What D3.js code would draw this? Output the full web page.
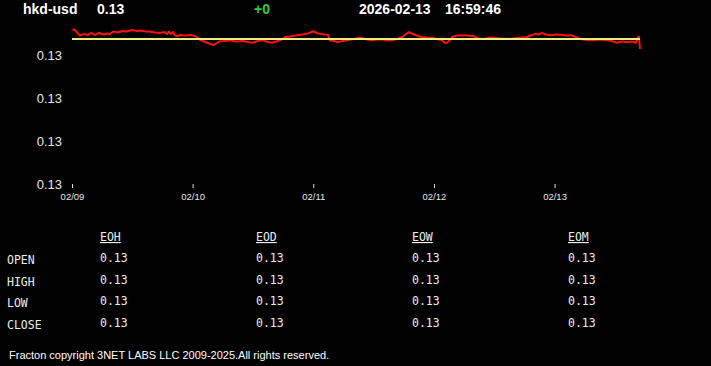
<!DOCTYPE html>
<html>
<head>
<meta charset="utf-8">
<script src="https://cdn.jsdelivr.net/npm/d3@7"></script>
<style>
  html, body { margin: 0; padding: 0; background: #000; }
  svg { display: block; }
</style>
</head>
<body>
<div id="visualization"></div>
<script>
// hours since 2026-02-09 00:00 and hkd-usd quote
var hours = [0.1, 0.6, 1.5, 2.4, 3.2, 3.8, 4.6, 5.4, 6.2, 7.0, 7.6, 8.2, 9.2, 10.0, 10.9, 11.9, 12.9, 13.7, 14.7, 15.5,
  16.5, 17.5, 18.3, 18.9, 19.3, 19.7, 20.1, 20.5, 21.1, 21.5, 22.5, 23.5, 24.5, 25.1, 25.5, 26.3, 27.3, 28.1, 28.9, 29.4,
  30.4, 31.4, 32.6, 34.0, 35.0, 36.0, 37.0, 38.0, 39.0, 39.8, 40.8, 41.6, 42.4, 43.4, 44.8, 45.8, 46.8, 48.0, 48.7, 49.3,
  50.3, 50.9, 51.3, 52.1, 52.9, 53.9, 54.7, 55.5, 56.3, 56.9, 57.7, 58.7, 59.7, 60.7, 61.7, 62.7, 63.7, 64.7, 65.7, 66.5,
  67.0, 67.6, 68.2, 68.8, 69.6, 70.6, 71.6, 72.6, 73.6, 74.2, 74.6, 75.2, 75.6, 76.6, 77.6, 78.6, 79.6, 80.4, 81.0, 82.2,
  83.2, 84.2, 85.2, 86.1, 87.3, 88.5, 89.5, 90.5, 91.3, 92.3, 92.9, 93.5, 94.3, 95.3, 96.3, 97.3, 98.3, 99.3, 100.3, 101.3,
  102.5, 103.9, 105.0, 106.4, 107.4, 108.4, 109.4, 110.4, 111.4, 112.2, 112.6, 112.8, 113.0];
var prices = [0.1278299, 0.1278291, 0.1278227, 0.1278244, 0.1278233, 0.1278256, 0.1278233, 0.1278256, 0.1278238, 0.1278250,
  0.1278244, 0.1278273, 0.1278262, 0.1278279, 0.1278273, 0.1278291, 0.1278279, 0.1278285, 0.1278273, 0.1278273,
  0.1278262, 0.1278256, 0.1278267, 0.1278244, 0.1278273, 0.1278244, 0.1278267, 0.1278227, 0.1278221, 0.1278233,
  0.1278227, 0.1278233, 0.1278221, 0.1278198, 0.1278174, 0.1278157, 0.1278134, 0.1278116, 0.1278140, 0.1278159,
  0.1278163, 0.1278171, 0.1278157, 0.1278163, 0.1278151, 0.1278143, 0.1278163, 0.1278171, 0.1278151, 0.1278143,
  0.1278159, 0.1278174, 0.1278209, 0.1278215, 0.1278229, 0.1278238, 0.1278248, 0.1278276, 0.1278256, 0.1278248,
  0.1278238, 0.1278236, 0.1278171, 0.1278163, 0.1278151, 0.1278163, 0.1278171, 0.1278180, 0.1278190, 0.1278198,
  0.1278198, 0.1278180, 0.1278171, 0.1278180, 0.1278183, 0.1278169, 0.1278171, 0.1278186, 0.1278209, 0.1278244,
  0.1278267, 0.1278250, 0.1278236, 0.1278221, 0.1278209, 0.1278203, 0.1278198, 0.1278186, 0.1278171, 0.1278140,
  0.1278143, 0.1278174, 0.1278209, 0.1278227, 0.1278229, 0.1278227, 0.1278221, 0.1278209, 0.1278190, 0.1278190,
  0.1278203, 0.1278198, 0.1278192, 0.1278190, 0.1278190, 0.1278198, 0.1278203, 0.1278209, 0.1278227, 0.1278248,
  0.1278238, 0.1278256, 0.1278238, 0.1278229, 0.1278238, 0.1278236, 0.1278227, 0.1278229, 0.1278209, 0.1278183,
  0.1278174, 0.1278171, 0.1278180, 0.1278171, 0.1278163, 0.1278143, 0.1278157, 0.1278151, 0.1278157, 0.1278143,
  0.1278209, 0.1278215, 0.1278070];
var refPrice = 0.1278186;

var yTicks = [0.12765, 0.12770, 0.12775, 0.12780];
var xTickDays = ["2026-02-09", "2026-02-10", "2026-02-11", "2026-02-12", "2026-02-13"];

var symbol = "hkd-usd";
var lastQuote = 0.1278;
var change = 0;
var stamp = ["2026-02-13", "16:59:46"];

var rowLabels = ["OPEN", "HIGH", "LOW", "CLOSE"];
var colLabels = ["EOH", "EOD", "EOW", "EOM"];
var eohValues = [0.1278, 0.1278, 0.1278, 0.1278];
var eodValues = [0.1278, 0.1278, 0.1278, 0.1278];
var eowValues = [0.1278, 0.1278, 0.1278, 0.1278];
var eomValues = [0.1278, 0.1278, 0.1278, 0.1278];

var footer = "Fracton copyright 3NET LABS LLC 2009-2025.All rights reserved.";

var width = 711, height = 366;
var svg = d3.select("#visualization").append("svg")
    .attr("width", width)
    .attr("height", height)
    .style("background", "#000");

var parseDay = d3.timeParse("%Y-%m-%d");
var start = parseDay(xTickDays[0]);
var toDate = function(h){ return new Date(start.getTime() + h * 3600 * 1000); };

var data = hours.map(function(h, i){ return { date: toDate(h), value: prices[i] }; });

var x = d3.scaleTime()
    .domain([start, toDate(d3.max(hours))])
    .range([72, 640]);

var y = d3.scaleLinear()
    .domain([yTicks[0], yTicks[yTicks.length - 1]])
    .range([184, 55]);

/* ------- HEADER -------*/
var header = svg.append("g")
    .style("font-family", "Arial, 'Liberation Sans', sans-serif")
    .style("font-weight", "bold")
    .style("font-size", "14px");
header.append("text").attr("x", 23).attr("y", 14).attr("fill", "#fff").text(symbol);
header.append("text").attr("x", 97).attr("y", 14).attr("fill", "#fff").text(d3.format(".2f")(lastQuote));
header.append("text").attr("x", 254).attr("y", 14).attr("fill", "#33cc33").text(d3.format("+")(change));
header.append("text").attr("x", 359).attr("y", 14).attr("fill", "#fff").text(stamp[0]);
header.append("text").attr("x", 445).attr("y", 14).attr("fill", "#fff").text(stamp[1]);

/* ------- AXES -------*/
var yAxis = svg.append("g")
    .attr("transform", "translate(62,0)")
    .call(d3.axisLeft(y).tickValues(yTicks).tickFormat(d3.format(".2f")).tickSize(0).tickPadding(0));
yAxis.select(".domain").remove();
yAxis.selectAll("text")
    .attr("fill", "#e8e8e8")
    .style("font-family", "Arial, 'Liberation Sans', sans-serif")
    .style("font-size", "13px");

var xAxis = svg.append("g")
    .attr("transform", "translate(0,184)")
    .call(d3.axisBottom(x).tickValues(xTickDays.map(parseDay)).tickFormat(d3.timeFormat("%m/%d")).tickSize(4).tickPadding(5));
xAxis.select(".domain").remove();
xAxis.selectAll("line").attr("stroke", "#ddd");
xAxis.selectAll("text")
    .attr("fill", "#e8e8e8")
    .style("font-family", "Arial, 'Liberation Sans', sans-serif")
    .style("font-size", "9.5px");

/* ------- LINES -------*/
var line = d3.line()
    .x(function(d){ return x(d.date); })
    .y(function(d){ return y(d.value); });

svg.append("path")
    .datum(data)
    .attr("fill", "none")
    .attr("stroke", "#ff1010")
    .attr("stroke-width", 2)
    .attr("stroke-linejoin", "round")
    .attr("d", line);

svg.append("line")
    .attr("x1", x.range()[0]).attr("x2", x.range()[1])
    .attr("y1", y(refPrice)).attr("y2", y(refPrice))
    .attr("stroke", "#eeee80")
    .attr("stroke-width", 2);

/* ------- TABLE -------*/
var colX = d3.scalePoint().domain(colLabels).range([100, 568]);
var rowY = d3.scalePoint().domain(rowLabels).range([262, 327]);
var colValues = [eohValues, eodValues, eowValues, eomValues];

var table = svg.append("g")
    .style("font-family", "'DejaVu Sans Mono', monospace")
    .style("font-size", "11.5px")
    .attr("fill", "#eee");

table.selectAll("text.head")
    .data(colLabels)
    .enter().append("text")
    .attr("class", "head")
    .attr("x", function(d){ return colX(d); })
    .attr("y", 241)
    .style("text-decoration", "underline")
    .text(function(d){ return d; });

table.selectAll("text.row")
    .data(rowLabels)
    .enter().append("text")
    .attr("class", "row")
    .attr("x", 7)
    .attr("y", function(d){ return rowY(d) + 2; })
    .text(function(d){ return d; });

colValues.forEach(function(vals, c){
    table.selectAll("text.val" + c)
        .data(vals)
        .enter().append("text")
        .attr("class", "val" + c)
        .attr("x", colX(colLabels[c]))
        .attr("y", function(d, i){ return rowY(rowLabels[i]); })
        .text(function(d){ return d3.format(".2f")(d); });
});

/* ------- FOOTER -------*/
svg.append("text")
    .attr("x", 9)
    .attr("y", 359)
    .attr("fill", "#fff")
    .style("font-family", "Arial, 'Liberation Sans', sans-serif")
    .style("font-size", "11px")
    .text(footer);
</script>
</body>
</html>
